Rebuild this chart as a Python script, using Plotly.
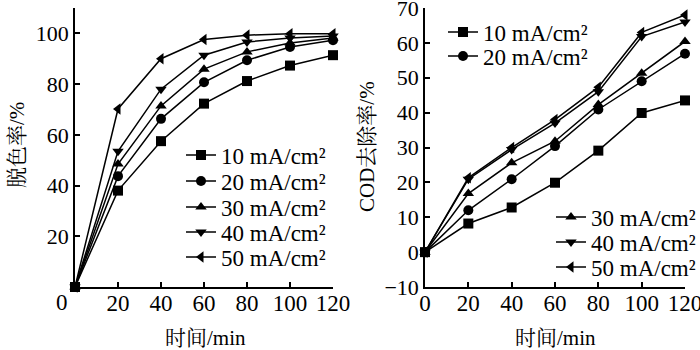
import plotly.graph_objects as go

time_min = [0, 20, 40, 60, 80, 100, 120]
series_names = ["10 mA/cm²", "20 mA/cm²", "30 mA/cm²", "40 mA/cm²", "50 mA/cm²"]

decolor_10 = [0, 38, 57.5, 72.3, 81.2, 87.3, 91.4]
decolor_20 = [0, 43.7, 66.3, 80.7, 89.4, 94.6, 97.3]
decolor_30 = [0, 48.5, 71.4, 85.9, 92.7, 96.2, 98.2]
decolor_40 = [0, 53.5, 78.0, 91.4, 96.6, 98.2, 99.0]
decolor_50 = [0, 70.2, 90.0, 97.6, 99.3, 99.8, 99.8]

cod_10 = [0, 8.2, 12.8, 19.9, 29.1, 39.9, 43.5]
cod_20 = [0, 12.0, 20.9, 30.4, 40.9, 49.0, 56.9]
cod_30 = [0, 16.8, 25.6, 31.8, 42.3, 51.3, 60.4]
cod_40 = [0, 20.9, 29.4, 37.0, 46.0, 61.8, 66.0]
cod_50 = [0, 21.3, 30.0, 38.0, 47.3, 63.0, 68.0]

left_yticks = [20, 40, 60, 80, 100]
right_yticks = [-10, 0, 10, 20, 30, 40, 50, 60, 70]
xticks = [0, 20, 40, 60, 80, 100, 120]

symbols = ["square", "circle", "triangle-up", "triangle-down", "triangle-left"]
decolor = [decolor_10, decolor_20, decolor_30, decolor_40, decolor_50]
cod = [cod_10, cod_20, cod_30, cod_40, cod_50]

SERIF = "Liberation Serif, Times New Roman, serif"
CJK = "Liberation Serif, Noto Serif CJK SC, Noto Sans CJK SC, serif"
W, H = 700, 350

# legend placement (pixel: text start x, row centre y)
left_leg_pos = [(223, 155), (223, 181), (223, 207), (223, 232), (223, 257)]
right_leg_pos = [(485, 32), (485, 56), (593, 217), (593, 242), (593, 267)]
legfont = dict(family=SERIF, size=23, color="black")

fig = go.Figure()
legends = {}
k = 0
for name, sym, ys, pos in zip(series_names, symbols, decolor, left_leg_pos):
    k += 1
    lname = "legend" if k == 1 else f"legend{k}"
    legends[lname] = dict(x=(pos[0] - 42) / W, y=1 - pos[1] / H, xanchor="left",
                          yanchor="middle", bgcolor="rgba(0,0,0,0)", font=legfont,
                          itemwidth=30, visible=True)
    fig.add_trace(go.Scatter(
        x=time_min, y=ys, name=name, mode="lines+markers", showlegend=True,
        line=dict(color="black", width=1.5),
        marker=dict(symbol=sym, size=10, color="black"),
        xaxis="x", yaxis="y", legend=lname, cliponaxis=False))
for name, sym, ys, pos in zip(series_names, symbols, cod, right_leg_pos):
    k += 1
    lname = f"legend{k}"
    legends[lname] = dict(x=(pos[0] - 42) / W, y=1 - pos[1] / H, xanchor="left",
                          yanchor="middle", bgcolor="rgba(0,0,0,0)", font=legfont,
                          itemwidth=30, visible=True)
    fig.add_trace(go.Scatter(
        x=time_min, y=ys, name=name, mode="lines+markers", showlegend=True,
        line=dict(color="black", width=1.5),
        marker=dict(symbol=sym, size=10, color="black"),
        xaxis="x2", yaxis="y2", legend=lname, cliponaxis=False))

axis_common = dict(showline=True, linecolor="black", linewidth=1.5, ticks="inside",
                   ticklen=5, tickwidth=1.5, tickcolor="black", showgrid=False,
                   zeroline=False, ticklabeloverflow="allow",
                   tickfont=dict(family=SERIF, size=22, color="black"))
xtickfont = dict(family=SERIF, size=23, color="black")
ydom = [(H - 287) / H, (H - 8) / H]

fig.update_layout(
    width=W, height=H, margin=dict(l=0, r=0, t=0, b=0, autoexpand=False),
    showlegend=True,
    plot_bgcolor="white", paper_bgcolor="white",
    font=dict(family=SERIF, color="black"),
    xaxis=dict(domain=[75 / W, 333 / W], range=[0, 120], tickvals=xticks,
               ticktext=[""] + [str(v) for v in xticks[1:]], anchor="y",
               ticklabelstandoff=-5, **{**axis_common, "tickfont": xtickfont}),
    yaxis=dict(domain=ydom, range=[0, 110], tickvals=left_yticks, anchor="x",
               **axis_common),
    xaxis2=dict(domain=[425 / W, 685 / W], range=[0, 120], tickvals=xticks, anchor="y2",
                ticklabelstandoff=-5, **{**axis_common, "tickfont": xtickfont}),
    yaxis2=dict(domain=ydom, range=[-10, 70], tickvals=right_yticks, anchor="x2",
                **axis_common),
    annotations=[
        dict(text="0", x=62 / W, y=1 - 302 / H, xref="paper", yref="paper",
             xanchor="center", yanchor="middle", showarrow=False, font=xtickfont),
        dict(text="时间/min", x=205 / W, y=1 - 338 / H, xref="paper", yref="paper",
             xanchor="center", yanchor="middle", showarrow=False,
             font=dict(family=CJK, size=21)),
        dict(text="时间/min", x=555 / W, y=1 - 338 / H, xref="paper", yref="paper",
             xanchor="center", yanchor="middle", showarrow=False,
             font=dict(family=CJK, size=21)),
        dict(text="脱色率/%", x=17 / W, y=1 - 145 / H, xref="paper", yref="paper",
             xanchor="center", yanchor="middle", showarrow=False, textangle=-90,
             font=dict(family=CJK, size=21)),
        dict(text="COD去除率/%", x=367 / W, y=1 - 146 / H, xref="paper", yref="paper",
             xanchor="center", yanchor="middle", showarrow=False, textangle=-90,
             font=dict(family=CJK, size=21)),
    ],
    **legends,
)

fig.write_html("out.html")
